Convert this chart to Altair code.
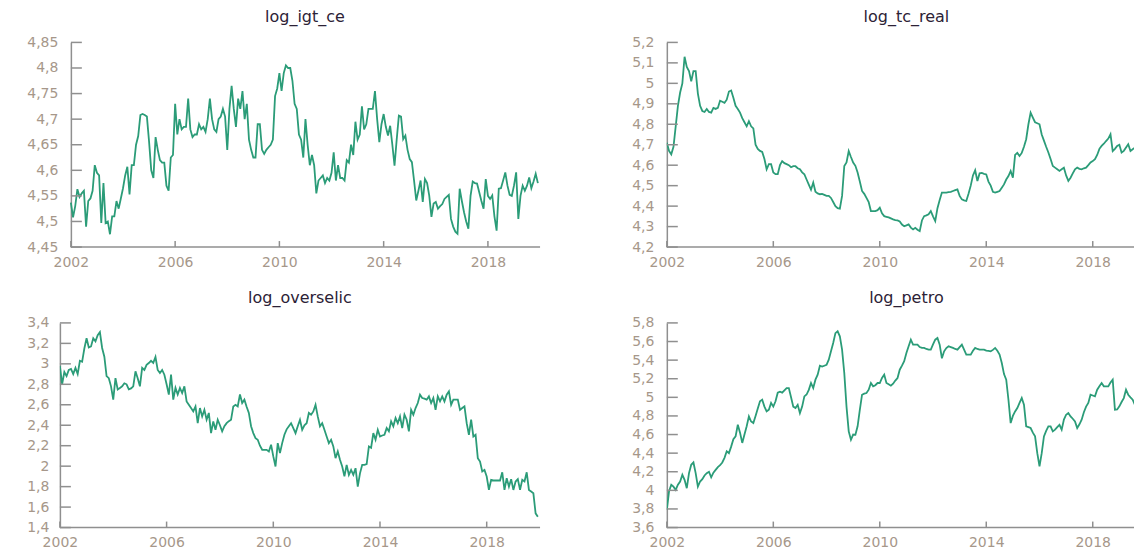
import altair as alt
import pandas as pd

MONTHS = 216
T = [2002 + i / 12 for i in range(MONTHS)]
X_TICKS = [2002, 2006, 2010, 2014, 2018]

IGT = [
    4.537, 4.508, 4.53, 4.563, 4.548, 4.555, 4.56, 4.49, 4.54, 4.545, 4.56, 4.61,
    4.595, 4.59, 4.497, 4.575, 4.497, 4.50, 4.475, 4.51, 4.51, 4.54, 4.525, 4.545,
    4.565, 4.59, 4.607, 4.553, 4.61, 4.61, 4.65, 4.667, 4.708, 4.71, 4.708, 4.705,
    4.656, 4.60, 4.585, 4.665, 4.64, 4.62, 4.615, 4.615, 4.57, 4.56, 4.625, 4.63,
    4.73, 4.67, 4.70, 4.68, 4.685, 4.685, 4.74, 4.68, 4.665, 4.67, 4.67, 4.69,
    4.68, 4.685, 4.675, 4.70, 4.74, 4.70, 4.68, 4.675, 4.70, 4.705, 4.72, 4.705,
    4.64, 4.72, 4.765, 4.72, 4.685, 4.74, 4.72, 4.755, 4.70, 4.73, 4.66, 4.64,
    4.625, 4.625, 4.69, 4.69, 4.64, 4.632, 4.64, 4.645, 4.65, 4.66, 4.745, 4.76,
    4.79, 4.755, 4.79, 4.805, 4.80, 4.80, 4.775, 4.73, 4.72, 4.67, 4.66, 4.625,
    4.70, 4.65, 4.61, 4.63, 4.61, 4.555, 4.58, 4.585, 4.59, 4.575, 4.585, 4.58,
    4.595, 4.635, 4.58, 4.61, 4.585, 4.585, 4.58, 4.62, 4.615, 4.65, 4.63, 4.695,
    4.66, 4.67, 4.725, 4.68, 4.69, 4.72, 4.72, 4.72, 4.755, 4.70, 4.655, 4.69,
    4.71, 4.685, 4.668, 4.687, 4.65, 4.609, 4.66, 4.707, 4.705, 4.661, 4.668, 4.64,
    4.622, 4.616, 4.58, 4.541, 4.56, 4.58, 4.538, 4.583, 4.575, 4.55, 4.509, 4.535,
    4.538, 4.525, 4.53, 4.534, 4.544, 4.548, 4.552, 4.505, 4.49, 4.48, 4.476, 4.564,
    4.54, 4.518, 4.50, 4.486, 4.55, 4.578, 4.575, 4.574, 4.557, 4.54, 4.525, 4.583,
    4.55, 4.544, 4.551, 4.51, 4.482, 4.564, 4.565, 4.58, 4.596, 4.57, 4.552, 4.55,
    4.57, 4.596, 4.505, 4.55, 4.57, 4.56, 4.57, 4.586, 4.565, 4.578, 4.593, 4.575,
]

TC_REAL = [
    4.71, 4.67, 4.653, 4.69, 4.79, 4.89, 4.955, 5.0, 5.13, 5.08, 5.06, 5.01,
    5.06, 5.06, 4.95, 4.89, 4.865, 4.86, 4.875, 4.86, 4.857, 4.88, 4.875, 4.88,
    4.915, 4.91, 4.905, 4.92, 4.96, 4.965, 4.93, 4.89, 4.875, 4.857, 4.83, 4.81,
    4.79, 4.815, 4.79, 4.78, 4.70, 4.68, 4.67, 4.665, 4.63, 4.58, 4.605, 4.605,
    4.564, 4.556, 4.556, 4.60, 4.62, 4.61, 4.605, 4.60, 4.59, 4.595, 4.595, 4.585,
    4.58, 4.565, 4.556, 4.53, 4.505, 4.48, 4.515, 4.47, 4.462, 4.458, 4.46, 4.455,
    4.45, 4.45, 4.44, 4.42, 4.40, 4.39, 4.388, 4.45, 4.596, 4.613, 4.669, 4.64,
    4.613, 4.597, 4.564, 4.52, 4.474, 4.46, 4.44, 4.42, 4.376, 4.376, 4.376, 4.38,
    4.392, 4.365, 4.351, 4.348, 4.345, 4.34, 4.335, 4.332, 4.33, 4.325, 4.31, 4.302,
    4.306, 4.311, 4.295, 4.286, 4.294, 4.285, 4.278, 4.33, 4.351, 4.355, 4.36, 4.376,
    4.35, 4.327, 4.39, 4.43, 4.466, 4.466, 4.466, 4.468, 4.47, 4.474, 4.478, 4.482,
    4.45, 4.433, 4.428, 4.425, 4.46, 4.50, 4.55, 4.575, 4.523, 4.56, 4.562, 4.558,
    4.555, 4.52, 4.50, 4.47, 4.466, 4.47, 4.474, 4.49, 4.506, 4.53, 4.547, 4.572,
    4.539, 4.65, 4.66, 4.645, 4.66, 4.69, 4.727, 4.80, 4.857, 4.833, 4.81, 4.805,
    4.80, 4.75, 4.72, 4.69, 4.662, 4.63, 4.596, 4.588, 4.58, 4.572, 4.58, 4.588,
    4.55, 4.523, 4.539, 4.56, 4.58, 4.588, 4.582, 4.58, 4.585, 4.588, 4.60, 4.613,
    4.62, 4.629, 4.65, 4.68, 4.694, 4.705, 4.718, 4.73, 4.751, 4.669, 4.68, 4.694,
    4.70, 4.662, 4.67, 4.686, 4.702, 4.669, 4.678, 4.686, 4.68, 4.69, 4.68, 4.685,
]

OVERSELIC = [
    2.98, 2.80, 2.92, 2.88, 2.94, 2.95, 2.90, 2.96, 2.90, 3.03, 3.02, 3.15,
    3.25, 3.16, 3.17, 3.25, 3.22, 3.28, 3.31, 3.155, 3.07, 2.88, 2.86, 2.78,
    2.65, 2.86, 2.75, 2.765, 2.78, 2.81, 2.80, 2.75, 2.76, 2.78, 2.927, 2.86,
    2.78, 2.96, 2.94, 2.99, 3.008, 3.03, 3.01, 3.067, 2.94, 2.91, 2.94, 2.894,
    2.80, 2.70, 2.894, 2.65, 2.765, 2.70, 2.765, 2.715, 2.78, 2.633, 2.60, 2.568,
    2.535, 2.584, 2.42, 2.568, 2.486, 2.55, 2.454, 2.52, 2.323, 2.437, 2.356, 2.454,
    2.40, 2.34, 2.39, 2.42, 2.44, 2.454, 2.584, 2.60, 2.584, 2.70, 2.617, 2.65,
    2.58, 2.52, 2.39, 2.323, 2.274, 2.258, 2.20, 2.16, 2.16, 2.16, 2.144, 2.21,
    2.095, 1.997, 2.225, 2.127, 2.225, 2.307, 2.36, 2.39, 2.42, 2.372, 2.323, 2.39,
    2.454, 2.356, 2.40, 2.42, 2.52, 2.503, 2.535, 2.60, 2.486, 2.39, 2.42, 2.356,
    2.29, 2.225, 2.258, 2.193, 2.078, 2.144, 2.062, 1.997, 1.90, 2.013, 1.915, 1.964,
    1.915, 1.98, 1.80, 1.93, 2.013, 2.013, 2.02, 2.193, 2.18, 2.323, 2.258, 2.355,
    2.29, 2.30, 2.307, 2.372, 2.34, 2.438, 2.39, 2.47, 2.42, 2.486, 2.372, 2.503,
    2.454, 2.34, 2.55, 2.503, 2.568, 2.617, 2.698, 2.666, 2.66, 2.65, 2.682, 2.617,
    2.666, 2.55, 2.682, 2.633, 2.682, 2.633, 2.698, 2.731, 2.60, 2.65, 2.65, 2.65,
    2.55, 2.568, 2.584, 2.42, 2.307, 2.454, 2.29, 2.307, 2.078, 2.045, 1.948, 1.964,
    1.899, 1.768, 1.866, 1.86, 1.86, 1.86, 1.86, 1.94, 1.768, 1.883, 1.80, 1.873,
    1.768, 1.85, 1.873, 1.768, 1.866, 1.85, 1.94, 1.768, 1.752, 1.735, 1.539, 1.506,
]

PETRO = [
    3.79, 3.99, 4.06, 4.04, 4.005, 4.06, 4.095, 4.167, 4.113, 4.023, 4.185, 4.275,
    4.30, 4.185, 4.04, 4.095, 4.12, 4.16, 4.185, 4.20, 4.14, 4.19, 4.22, 4.25,
    4.27, 4.30, 4.35, 4.42, 4.40, 4.47, 4.55, 4.58, 4.705, 4.62, 4.51, 4.60,
    4.69, 4.795, 4.74, 4.723, 4.80, 4.88, 4.957, 4.975, 4.90, 4.85, 4.867, 4.94,
    4.90, 4.957, 5.05, 5.06, 5.05, 5.075, 5.10, 5.10, 5.00, 4.90, 4.885, 4.92,
    4.83, 4.90, 5.01, 5.03, 5.08, 5.154, 5.10, 5.19, 5.244, 5.34, 5.33, 5.34,
    5.35, 5.405, 5.495, 5.585, 5.69, 5.71, 5.656, 5.513, 5.26, 4.9, 4.634, 4.544,
    4.60, 4.597, 4.688, 4.866, 5.028, 5.04, 5.046, 5.082, 5.154, 5.118, 5.13, 5.154,
    5.154, 5.208, 5.244, 5.154, 5.14, 5.125, 5.147, 5.18, 5.208, 5.297, 5.34, 5.388,
    5.477, 5.55, 5.62, 5.566, 5.566, 5.566, 5.54, 5.531, 5.531, 5.52, 5.513, 5.513,
    5.57, 5.62, 5.638, 5.566, 5.42, 5.495, 5.53, 5.549, 5.54, 5.531, 5.52, 5.513,
    5.54, 5.566, 5.513, 5.459, 5.459, 5.459, 5.50, 5.531, 5.52, 5.513, 5.513, 5.513,
    5.502, 5.50, 5.495, 5.51, 5.531, 5.50, 5.459, 5.369, 5.25, 5.19, 4.974, 4.723,
    4.80, 4.848, 4.885, 4.94, 4.992, 4.92, 4.688, 4.68, 4.67, 4.62, 4.58, 4.40,
    4.257, 4.40, 4.58, 4.64, 4.688, 4.688, 4.634, 4.652, 4.68, 4.705, 4.652, 4.76,
    4.813, 4.831, 4.795, 4.77, 4.741, 4.67, 4.71, 4.759, 4.84, 4.90, 4.939, 5.028,
    5.02, 5.01, 5.082, 5.12, 5.154, 5.118, 5.118, 5.118, 5.16, 5.19, 4.866, 4.87,
    4.903, 4.95, 4.992, 5.082, 5.028, 5.00, 4.974, 4.92, 4.90, 4.92, 4.95, 4.94,
]

TICKS_IGT = [4.45, 4.5, 4.55, 4.6, 4.65, 4.7, 4.75, 4.8, 4.85]
TICKS_TC = [4.2, 4.3, 4.4, 4.5, 4.6, 4.7, 4.8, 4.9, 5.0, 5.1, 5.2]
TICKS_SELIC = [1.4, 1.6, 1.8, 2.0, 2.2, 2.4, 2.6, 2.8, 3.0, 3.2, 3.4]
TICKS_PETRO = [3.6, 3.8, 4.0, 4.2, 4.4, 4.6, 4.8, 5.0, 5.2, 5.4, 5.6, 5.8]

LINE = "#2b9c78"
AXIS = "#8f8f8f"
LABEL = "#a6978a"
TITLE = "#2c2236"
FONT = "DejaVu Sans"
HEIGHT = 205


def panel(name, values, yticks, span, xmax, ypad, title_dx, inset=0):
    """span: pixel width from the y axis to the right end; inset: empty pixels left of the y axis."""
    width = span + inset
    per_year = span / (xmax - 2002)
    xmin = 2002 - inset / per_year
    df = pd.DataFrame({"t": T, "v": values})
    xs = alt.Scale(domain=[xmin, xmax], nice=False, zero=False)
    ys = alt.Scale(domain=[yticks[0], yticks[-1]], nice=False, zero=False)
    xaxis = alt.Axis(values=X_TICKS, format="d", title=None, labelFlush=False,
                     labelPadding=8, domain=False)
    yaxis = alt.Axis(values=yticks, title=None, labelPadding=ypad, offset=-inset,
                     labelExpr="replace(format(datum.value, '.2~f'), '.', ',')")
    line = alt.Chart(df).mark_line(color=LINE, strokeWidth=1.8, clip=True).encode(
        x=alt.X("t:Q", scale=xs, axis=xaxis),
        y=alt.Y("v:Q", scale=ys, axis=yaxis),
    )
    ytk = alt.Chart(pd.DataFrame({"v": yticks})).mark_rule(color=AXIS, strokeWidth=1.5).encode(
        y=alt.Y("v:Q", scale=ys, axis=yaxis), x=alt.value(inset), x2=alt.value(inset + 11)
    )
    xtk = alt.Chart(pd.DataFrame({"t": X_TICKS})).mark_rule(color=AXIS, strokeWidth=1.5).encode(
        x=alt.X("t:Q", scale=xs, axis=xaxis), y=alt.value(HEIGHT - 6), y2=alt.value(HEIGHT)
    )
    xdom = alt.Chart(pd.DataFrame({"a": [2002], "b": [xmax]})).mark_rule(
        color=AXIS, strokeWidth=1.5).encode(
        x=alt.X("a:Q", scale=xs, axis=xaxis), x2="b:Q", y=alt.value(HEIGHT)
    )
    return alt.layer(line, ytk, xtk, xdom).properties(
        width=width, height=HEIGHT,
        title=alt.TitleParams(name, font=FONT, fontSize=16, fontWeight="normal", color=TITLE,
                              anchor="middle", offset=10, dx=title_dx),
    )


tl = panel("log_igt_ce", IGT, TICKS_IGT, 470, 2020.0, 13, 5, inset=11)
tr = panel("log_tc_real", TC_REAL, TICKS_TC, 468, 2019.55, 13, 6)
bl = panel("log_overselic", OVERSELIC, TICKS_SELIC, 481, 2020.0, 11, 0)
br = panel("log_petro", PETRO, TICKS_PETRO, 468, 2019.55, 13, 6)

chart = (
    alt.concat(tl, tr, bl, br, columns=2, align="none",
               spacing=alt.RowColnumber(row=21, column=90))
    .properties(padding={"left": 26, "top": 9, "right": 0, "bottom": 0}, background="white")
    .configure_view(stroke=None)
    .configure_axis(
        grid=False, ticks=False, domainColor=AXIS, domainWidth=1.5,
        labelColor=LABEL, labelFont=FONT, labelFontSize=14,
    )
)

chart.save("out.html", embed_options={"renderer": "svg", "actions": False})
